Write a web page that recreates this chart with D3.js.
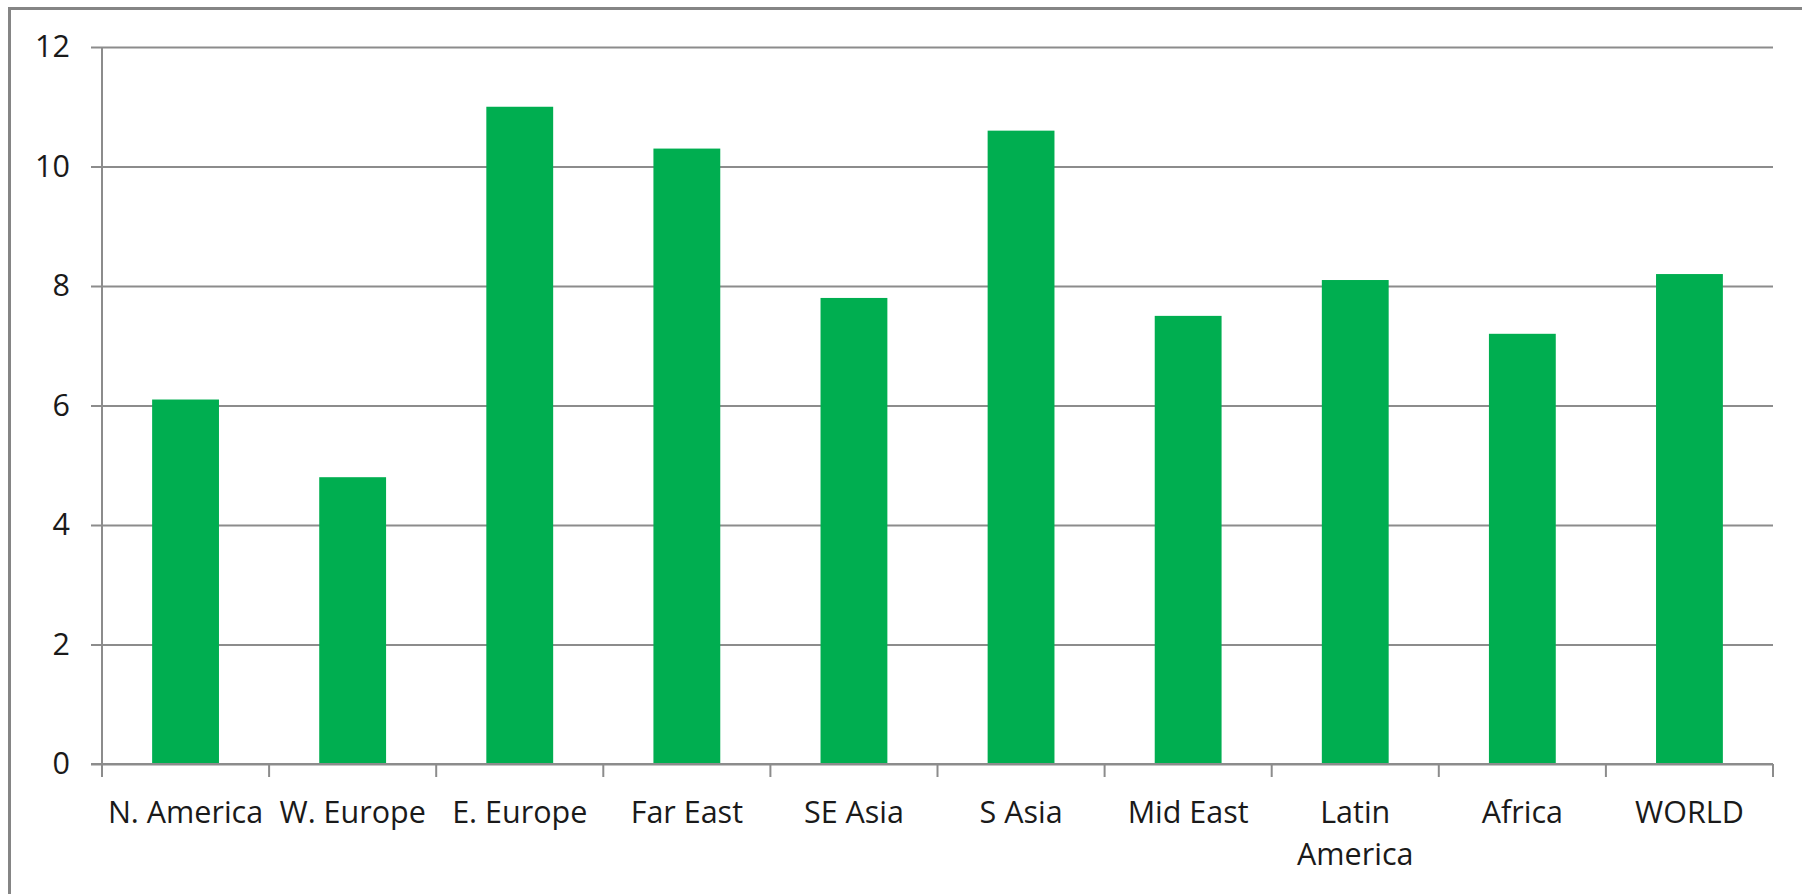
<!DOCTYPE html>
<html>
<head>
<meta charset="utf-8">
<script src="https://cdn.jsdelivr.net/npm/d3@7"></script>
<style>
  body { margin: 0; background: #fff; }
  svg { display: block; }
</style>
</head>
<body>
<svg width="1802" height="894"></svg>
<script>
// данные графика
const regions = ["N. America", "W. Europe", "E. Europe", "Far East", "SE Asia",
                 "S Asia", "Mid East", "Latin America", "Africa", "WORLD"];
const values = [6.1, 4.8, 11.0, 10.3, 7.8, 10.6, 7.5, 8.1, 7.2, 8.2];
const yTicks = [0, 2, 4, 6, 8, 10, 12];

const svg = d3.select("svg");
const width = +svg.attr("width");
const height = +svg.attr("height");

const plotLeft = 102, plotRight = 1773, plotTop = 47, plotBottom = 764;
const font = "'Open Sans', sans-serif";
const fontSize = 30.5;

// рамка области диаграммы (правый и нижний края уходят за кадр)
svg.append("rect")
    .attr("x", 9.5).attr("y", 8.5)
    .attr("width", width + 10).attr("height", height + 10)
    .attr("fill", "#fff")
    .attr("stroke", "#858585")
    .attr("stroke-width", 3);

const x = d3.scaleBand()
    .domain(regions)
    .range([plotLeft, plotRight])
    .paddingInner(0.6)
    .paddingOuter(0.3);

const y = d3.scaleLinear()
    .domain([0, 12])
    .range([plotBottom, plotTop]);

// сетка и ось Y
const yAxis = svg.append("g")
    .attr("transform", `translate(${plotLeft},0)`)
    .call(d3.axisLeft(y).tickValues(yTicks).tickSize(-(plotRight - plotLeft)).tickPadding(32).tickSizeOuter(0));
yAxis.select(".domain").remove();
yAxis.selectAll(".tick line")
    .attr("x1", -11)
    .attr("stroke", "#8c8c8c")
    .attr("stroke-width", 2);
yAxis.selectAll(".tick text")
    .attr("font-family", font)
    .attr("font-size", fontSize)
    .attr("fill", "#1a1a1a");

// столбцы
svg.append("g")
    .selectAll("rect")
    .data(values)
    .join("rect")
    .attr("x", (d, i) => x(regions[i]))
    .attr("y", d => y(d))
    .attr("width", x.bandwidth())
    .attr("height", d => y(0) - y(d))
    .attr("fill", "#00AE50");

// вертикальная ось
svg.append("line")
    .attr("x1", plotLeft).attr("x2", plotLeft)
    .attr("y1", plotTop).attr("y2", plotBottom + 13)
    .attr("stroke", "#8c8c8c").attr("stroke-width", 2);

// ось X с делениями между категориями
const xAxis = svg.append("g");
xAxis.append("line")
    .attr("x1", plotLeft - 11).attr("x2", plotRight)
    .attr("y1", plotBottom).attr("y2", plotBottom)
    .attr("stroke", "#8c8c8c").attr("stroke-width", 2);

const bounds = d3.range(regions.length + 1).map(i => plotLeft + i * (plotRight - plotLeft) / regions.length);
xAxis.selectAll(".sep")
    .data(bounds)
    .join("line")
    .attr("x1", d => d).attr("x2", d => d)
    .attr("y1", plotBottom).attr("y2", plotBottom + 13)
    .attr("stroke", "#8c8c8c").attr("stroke-width", 2);

// подписи категорий
xAxis.selectAll(".lbl")
    .data(regions)
    .join("text")
    .attr("x", d => x(d) + x.bandwidth() / 2)
    .attr("y", 823)
    .attr("text-anchor", "middle")
    .attr("font-family", font)
    .attr("font-size", fontSize)
    .attr("fill", "#1a1a1a")
    .each(function(d) {
        const t = d3.select(this);
        const parts = d === "Latin America" ? ["Latin", "America"] : [d];
        parts.forEach((p, k) => {
            t.append("tspan")
                .attr("x", x(d) + x.bandwidth() / 2)
                .attr("dy", k === 0 ? 0 : 42)
                .text(p);
        });
    });
</script>
</body>
</html>
